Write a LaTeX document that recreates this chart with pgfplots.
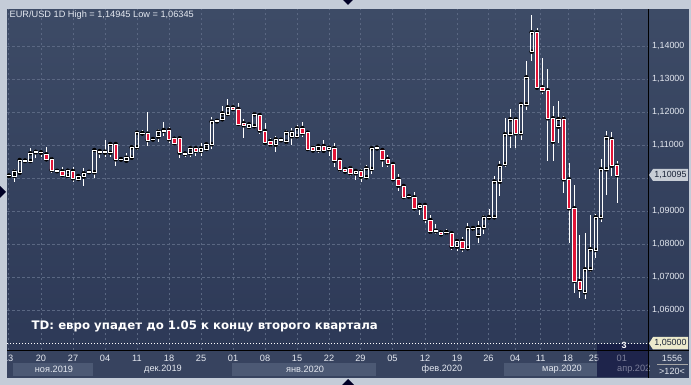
\documentclass[border=0pt]{standalone}
\usepackage{pgfplots}
\pgfplotsset{compat=1.18}
\usepackage{pgfplotstable}
\usepackage{fontspec}
\setmainfont{Liberation Sans}
\newfontfamily\djv{DejaVu Sans}
\definecolor{bgtop}{RGB}{61,75,102}
\definecolor{bgbot}{RGB}{45,57,87}
\definecolor{framec}{RGB}{196,204,216}
\definecolor{gridc}{RGB}{90,103,130}
\definecolor{datebg}{RGB}{55,67,95}
\definecolor{bandc}{RGB}{76,89,116}
\definecolor{bear}{RGB}{225,20,55}
\definecolor{txt}{RGB}{228,232,240}
\definecolor{tagtxt}{RGB}{25,35,55}

\pgfplotstableread{
i o h l c
1 1.10075 1.10133 1.10042 1.10090
2 1.10073 1.10285 1.09891 1.10203
3 1.10173 1.10588 1.10133 1.10558
4 1.10527 1.10558 1.10512 1.10542
5 1.10527 1.10912 1.10527 1.10761
6 1.10791 1.10830 1.10627 1.10806
7 1.10779 1.10830 1.10658 1.10791
8 1.10730 1.10961 1.10527 1.10579
9 1.10579 1.10658 1.10154 1.10254
10 1.10218 1.10254 1.10185 1.10230
11 1.10215 1.10336 1.10033 1.10103
12 1.10073 1.10254 1.10073 1.10233
13 1.10224 1.10336 1.09900 1.10003
14 1.09982 1.10103 1.09952 1.10073
15 1.10052 1.10306 1.09779 1.10154
16 1.10188 1.10254 1.10154 1.10200
17 1.10185 1.10882 1.10003 1.10861
18 1.10830 1.10900 1.10627 1.10791
19 1.10779 1.11164 1.10658 1.10809
20 1.10779 1.11112 1.10658 1.11042
21 1.11042 1.11094 1.10376 1.10579
22 1.10570 1.10627 1.10527 1.10585
23 1.10536 1.10761 1.10506 1.10627
24 1.10627 1.10942 1.10609 1.10942
25 1.10942 1.11415 1.10861 1.11385
26 1.11360 1.11467 1.11315 1.11373
27 1.11355 1.12003 1.10982 1.11164
28 1.11176 1.11200 1.11170 1.11191
29 1.11264 1.11497 1.11112 1.11415
30 1.11436 1.11700 1.11294 1.11467
31 1.11467 1.11567 1.11082 1.11185
32 1.11203 1.11264 1.11064 1.11064
33 1.11215 1.11233 1.10627 1.10779
34 1.10740 1.10779 1.10658 1.10755
35 1.10761 1.10961 1.10658 1.10912
36 1.10912 1.10961 1.10679 1.10830
37 1.10830 1.11064 1.10688 1.10912
38 1.10891 1.11082 1.10882 1.11033
39 1.11033 1.11870 1.10891 1.11718
40 1.11730 1.11760 1.11720 1.11745
41 1.11791 1.12194 1.11739 1.11973
42 1.11951 1.12397 1.11942 1.12154
43 1.12154 1.12194 1.12094 1.12103
44 1.12103 1.12276 1.11597 1.11648
45 1.11670 1.11791 1.11233 1.11609
46 1.11558 1.11688 1.11518 1.11639
47 1.11579 1.12021 1.11548 1.11942
48 1.11921 1.11973 1.11345 1.11451
49 1.11436 1.11688 1.11042 1.11082
50 1.11133 1.11215 1.10961 1.11027
51 1.11021 1.11276 1.10791 1.11185
52 1.11155 1.11203 1.11133 1.11170
53 1.11112 1.11467 1.11042 1.11385
54 1.11276 1.11518 1.11012 1.11385
55 1.11276 1.11603 1.11224 1.11518
56 1.11527 1.11700 1.11255 1.11367
57 1.11385 1.11415 1.10839 1.10891
58 1.10927 1.10951 1.10830 1.10845
59 1.10861 1.11012 1.10761 1.10982
60 1.10982 1.11164 1.10809 1.10839
61 1.10882 1.10982 1.10688 1.10930
62 1.10912 1.11082 1.10355 1.10536
63 1.10558 1.10588 1.10203 1.10276
64 1.10276 1.10288 1.10200 1.10209
65 1.10306 1.10376 1.10073 1.10154
66 1.10154 1.10224 1.09952 1.10224
67 1.10203 1.10276 1.09900 1.10052
68 1.10033 1.10406 1.10003 1.10306
69 1.10285 1.10942 1.10133 1.10912
70 1.10906 1.10961 1.10861 1.10936
71 1.10861 1.10912 1.10355 1.10579
72 1.10588 1.10709 1.10336 1.10457
73 1.10436 1.10457 1.09930 1.09973
74 1.09982 1.10133 1.09633 1.09779
75 1.09770 1.09809 1.09397 1.09436
76 1.09445 1.09467 1.09367 1.09460
77 1.09427 1.09579 1.09042 1.09094
78 1.09112 1.09264 1.08891 1.09194
79 1.09194 1.09215 1.08640 1.08770
80 1.08739 1.08891 1.08306 1.08385
81 1.08400 1.08618 1.08306 1.08415
82 1.08367 1.08436 1.08264 1.08306
83 1.08360 1.08458 1.08285 1.08375
84 1.08336 1.08355 1.07830 1.07930
85 1.07930 1.08133 1.07800 1.08103
86 1.08103 1.08233 1.07761 1.07882
87 1.07882 1.08640 1.07861 1.08488
88 1.08480 1.08515 1.08421 1.08495
89 1.08264 1.08718 1.08033 1.08518
90 1.08518 1.08891 1.08306 1.08809
91 1.08812 1.09064 1.08761 1.08827
92 1.08821 1.10073 1.08770 1.09906
93 1.09900 1.10527 1.09467 1.10376
94 1.10436 1.11821 1.10355 1.11336
95 1.11336 1.12103 1.10930 1.11791
96 1.11791 1.11852 1.10930 1.11367
97 1.11367 1.12294 1.11164 1.12245
98 1.12245 1.13558 1.12073 1.13064
99 1.13839 1.14945 1.13567 1.14427
100 1.14427 1.14548 1.12730 1.12748
101 1.12761 1.13639 1.12548 1.12670
102 1.12670 1.13306 1.10536 1.11821
103 1.11821 1.12194 1.10536 1.11112
104 1.11567 1.12345 1.11064 1.11800
105 1.11800 1.11891 1.09548 1.09973
106 1.09973 1.10457 1.08051 1.09094
107 1.09094 1.09800 1.06536 1.06891
108 1.06891 1.08285 1.06367 1.06639
109 1.06548 1.08336 1.06345 1.07245
110 1.07245 1.08891 1.07173 1.07852
111 1.07830 1.08921 1.07579 1.08821
112 1.08821 1.10579 1.08688 1.10276
113 1.10276 1.11436 1.09497 1.11233
114 1.11185 1.11415 1.10082 1.10385
115 1.10385 1.10527 1.09245 1.10095
}\candles

\pgfplotsset{common/.style={scale only axis, width=641pt, height=341.5pt,
  at={(7pt,34.5pt)}, anchor=south west,
  xmin=0.625, xmax=120.81, ymin=1.047848, ymax=1.151333}}

\begin{document}
\begin{tikzpicture}[x=1pt,y=1pt]
\useasboundingbox (0,0) rectangle (691,385);
\fill[framec] (0,0) rectangle (691,385);
\shade[top color=bgtop, bottom color=bgbot] (7,376) rectangle (689,34.5);
\fill[datebg] (7,34.5) rectangle (689,7);
\fill[bandc] (12.7,21.7) rectangle (92.7,9);
\fill[bandc] (231.7,21.7) rectangle (376,9);
\fill[bandc] (504,21.7) rectangle (597,9);
\begin{scope}[every node/.style={text=txt, font=\fontsize{9.2}{10}\selectfont, inner sep=0pt}]
\node at (54,15.5) {ноя.2019};
\node at (163,15.5) {дек.2019};
\node at (305,15.5) {янв.2020};
\node at (442,15.5) {фев.2020};
\node at (562,15.5) {мар.2020};
\node[anchor=west] at (617,15.5) {апр.202};
\end{scope}

\begin{axis}[common,
  axis line style={draw=none},
  major tick length=0pt,
  grid=major,
  major grid style={draw=gridc, line width=0.7pt, dash pattern=on 2.5pt off 2.5pt},
  ytick={1.06,1.07,1.08,1.09,1.11,1.12,1.13,1.14},
  extra y ticks={1.10}, extra y tick labels={},
  extra y tick style={grid=major},
  yticklabel pos=right,
  y tick label style={/pgf/number format/fixed, /pgf/number format/fixed zerofill,
     /pgf/number format/precision=5, /pgf/number format/use comma,
     /pgf/number format/assume math mode=true},
  y tick label style={anchor=west, inner sep=0pt, xshift=4pt, text=txt, font=\fontsize{8.9}{10}\selectfont},
  xtick={0.85,7,13,19,25,31,37,43,49,55,61,66.9,72.9,79,85,90.9,95.9,100.7,105.8,110.7,115.9},
  xticklabels={13,20,27,04,11,18,25,01,08,15,22,29,05,12,19,26,04,11,18,25,01},
  x tick label style={anchor=north, inner sep=0pt, yshift=-4pt, text=txt, font=\fontsize{9.2}{10}\selectfont},
]
\addplot[only marks, mark=none, forget plot,
  error bars/.cd, y dir=plus, y explicit, error mark=none,
  error bar style={draw=white, line width=1pt}]
  table[x=i, y expr={max(\thisrow{o},\thisrow{c})},
        y error plus expr={\thisrow{h}-max(\thisrow{o},\thisrow{c})}] {\candles};
\addplot[only marks, mark=none, forget plot,
  error bars/.cd, y dir=minus, y explicit, error mark=none,
  error bar style={draw=white, line width=1pt}]
  table[x=i, y expr={min(\thisrow{o},\thisrow{c})},
        y error minus expr={min(\thisrow{o},\thisrow{c})-\thisrow{l}}] {\candles};
\addplot[white, line width=0.8pt, dash pattern=on 1.3pt off 1.7pt, forget plot]
  coordinates {(0.625,1.05) (120.81,1.05)};
\end{axis}

\begin{axis}[common, hide axis, ybar stacked, bar width=3.4pt]
\addplot[draw=none, fill=none]
  table[x=i, y expr={min(\thisrow{o},\thisrow{c})}] {\candles};
\addplot[draw=white, line width=0.9pt, fill=bear]
  table[x=i, y expr={\thisrow{o}>\thisrow{c} ? \thisrow{o}-\thisrow{c} : 0}] {\candles};
\addplot[draw=white, line width=0.9pt, fill=none]
  table[x=i, y expr={\thisrow{c}>\thisrow{o} ? \thisrow{c}-\thisrow{o} : 0}] {\candles};
\end{axis}

% overlay on current date
\fill[black!80!blue, opacity=0.45] (597,41) rectangle (647.5,8);
% black separators
\draw[black, line width=1pt] (7,34.5) -- (689,34.5);
\draw[black, line width=1pt] (648,376) -- (648,7);
% text annotation
\node[anchor=west, inner sep=0pt, text=white, font=\djv\bfseries\fontsize{11.75}{13}\selectfont] at (31.5,59) {TD: евро упадет до 1.05 к концу второго квартала};
% title
\node[anchor=west, inner sep=0pt, text=txt, font=\fontsize{9.2}{10}\selectfont] at (9.5,370) {EUR/USD 1D High = 1,14945 Low = 1,06345};
% marker 3
\node[inner sep=0pt, text=white, font=\bfseries\fontsize{9}{10}\selectfont] at (624,39.5) {3};
% price tags
\fill[draw=none, fill={rgb,255:red,200;green,206;blue,214}] (649,210) -- (653,216) -- (688,216) -- (688,204) -- (653,204) -- cycle;
\node[inner sep=0pt, text=tagtxt, font=\fontsize{8.9}{10}\selectfont] at (670.5,210) {1,10095};
\fill[draw=none, fill={rgb,255:red,236;green,234;blue,204}] (649,41.6) -- (653,48) -- (688,48) -- (688,35.5) -- (653,35.5) -- cycle;
\node[inner sep=0pt, text=tagtxt, font=\fontsize{8.9}{10}\selectfont] at (670.5,41.6) {1,05000};
% right bottom panel
\node[inner sep=0pt, text=txt, font=\fontsize{9}{10}\selectfont] at (672,27) {1556};
\draw[gray!70, line width=0.6pt] (657,20.5) -- (688,20.5);
\node[inner sep=0pt, text=txt, font=\fontsize{9}{10}\selectfont] at (672,14) {>120<};
% frame strips on top
\fill[framec] (0,0) rectangle (7,385);
\fill[framec] (0,376) rectangle (691,385);
\fill[framec] (0,0) rectangle (691,7);
\fill[framec] (689,0) rectangle (691,385);
% scroll triangles
\fill[black!85!blue] (343,385) -- (353,385) -- (348,380) -- cycle;
\fill[black!85!blue] (342,0) -- (354,0) -- (348,6) -- cycle;
\fill[black!85!blue] (0,199) -- (0,187) -- (6,193) -- cycle;
\end{tikzpicture}
\end{document}
